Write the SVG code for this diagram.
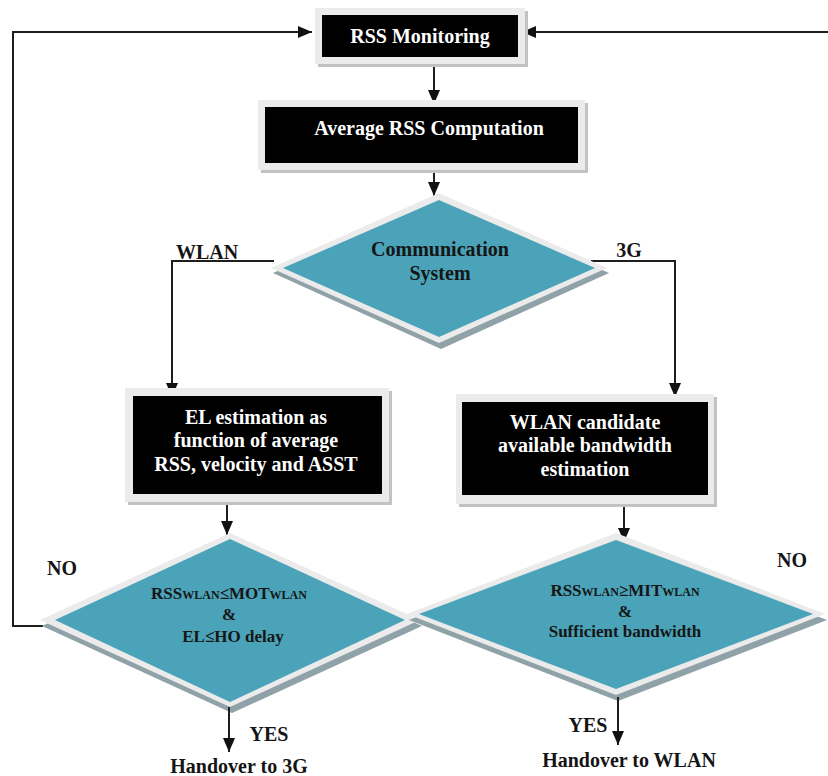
<svg xmlns="http://www.w3.org/2000/svg" width="828" height="776" viewBox="0 0 828 776">
<style>
.t{font-family:"Liberation Serif","Times New Roman",serif;font-weight:bold;font-size:20px;text-anchor:middle}
.w{fill:#ffffff}
.k{fill:#151515}
.d{font-size:17px}
.s{font-size:12px}
.frame{fill:#ebebeb}
.shadow{fill:#c2c2c2}
.box{fill:#000000}
.dshadow{fill:#8fa2a8}
.dframe{fill:#ebebeb}
.teal{fill:#4aa3b8}
.c{fill:none;stroke:#1e1e1e;stroke-width:2}
</style>
<defs>
<marker id="ah" markerUnits="userSpaceOnUse" markerWidth="14" markerHeight="12" refX="14" refY="6" orient="auto">
<path d="M0,0 L14,6 L0,12 z" fill="#111"/>
</marker>
</defs>
<rect width="828" height="776" fill="#ffffff"/>

<g id="connectors">
<path class="c" d="M43,626 H13 V32 H312" marker-end="url(#ah)"/>
<path class="c" d="M828,32 H522" marker-end="url(#ah)"/>
<path class="c" d="M434,64 V104" marker-end="url(#ah)"/>
<path class="c" d="M434,172 V196" marker-end="url(#ah)"/>
<path class="c" d="M274,261 H172 V397" marker-end="url(#ah)"/>
<path class="c" d="M591,261 H675 V397" marker-end="url(#ah)"/>
<path class="c" d="M227,504 V535" marker-end="url(#ah)"/>
<path class="c" d="M624,506 V542" marker-end="url(#ah)"/>
</g>

<g id="rss-monitoring">
<rect class="shadow" x="318" y="11" width="210" height="56"/>
<rect class="frame" x="315" y="8" width="210" height="56"/>
<rect class="box" x="322" y="15" width="196" height="42"/>
<text class="t w" x="420" y="43">RSS Monitoring</text>
</g>

<g id="average-rss">
<rect class="shadow" x="261" y="103" width="327" height="70"/>
<rect class="frame" x="258" y="100" width="327" height="70"/>
<rect class="box" x="265" y="107" width="313" height="56"/>
<text class="t w" x="429" y="135">Average RSS Computation</text>
</g>

<g id="communication-system">
<polygon class="dshadow" points="441,198 609,273 441,349 273,273"/>
<polygon class="dframe" points="439,193 607,268 439,343 271,268"/>
<polygon class="teal" points="439,200 595,268 439,337 283,268"/>
<text class="t k" x="440" y="256">Communication</text>
<text class="t k" x="440" y="280">System</text>
</g>

<g id="el-estimation">
<rect class="shadow" x="128" y="391" width="264" height="114"/>
<rect class="frame" x="125" y="388" width="264" height="114"/>
<rect class="box" x="133" y="396" width="249" height="98"/>
<text class="t w" x="256" y="424">EL estimation as</text>
<text class="t w" x="256" y="447">function of average</text>
<text class="t w" x="256" y="471">RSS, velocity and ASST</text>
</g>

<g id="bandwidth-estimation">
<rect class="shadow" x="459" y="397" width="258" height="110"/>
<rect class="frame" x="456" y="394" width="258" height="110"/>
<rect class="box" x="462" y="402" width="246" height="93"/>
<text class="t w" x="585" y="429">WLAN candidate</text>
<text class="t w" x="585" y="452">available bandwidth</text>
<text class="t w" x="585" y="476">estimation</text>
</g>

<g id="decision-3g">
<polygon class="dshadow" points="232,539 422,626 232,713 42,626"/>
<polygon class="dframe" points="230,533 420,620 230,707 40,620"/>
<polygon class="teal" points="230,539 405,620 230,702 55,620"/>
<text class="t k d" x="229" y="599">RSS<tspan class="s">WLAN</tspan>≤MOT<tspan class="s">WLAN</tspan></text>
<text class="t k d" x="229" y="620">&amp;</text>
<text class="t k d" x="233" y="642">EL≤HO delay</text>
</g>

<g id="decision-wlan">
<polygon class="dshadow" points="618,539 827,620 618,701 409,620"/>
<polygon class="dframe" points="616,533 825,614 616,695 407,614"/>
<polygon class="teal" points="616,540 813,614 616,689 419,614"/>
<text class="t k d" x="625" y="596">RSS<tspan class="s">WLAN</tspan>≥MIT<tspan class="s">WLAN</tspan></text>
<text class="t k d" x="625" y="617">&amp;</text>
<text class="t k d" x="625" y="637">Sufficient bandwidth</text>
</g>

<g id="yes-connectors">
<path class="c" d="M229,707 V752" marker-end="url(#ah)"/>
<path class="c" d="M618,697 V745" marker-end="url(#ah)"/>
</g>

<g id="labels">
<text class="t k" x="207" y="259">WLAN</text>
<text class="t k" x="629" y="257">3G</text>
<text class="t k" x="62" y="575">NO</text>
<text class="t k" x="792" y="567">NO</text>
<text class="t k" x="269" y="741">YES</text>
<text class="t k" x="588" y="732">YES</text>
<text class="t k" x="239" y="773">Handover to 3G</text>
<text class="t k" x="629" y="767">Handover to WLAN</text>
</g>
</svg>
